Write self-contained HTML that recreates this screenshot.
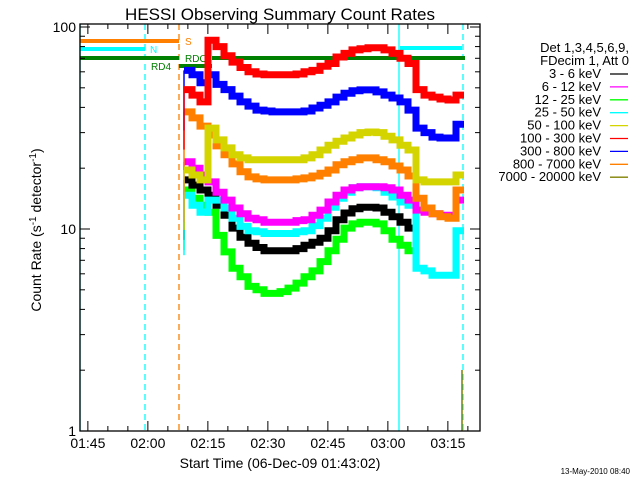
<!DOCTYPE html>
<html><head><meta charset="utf-8"><style>
body{margin:0;background:#fff;}
svg{display:block;font-family:"Liberation Sans",sans-serif;}
</style></head><body>
<svg id="c" width="640" height="480" xmlns="http://www.w3.org/2000/svg">
<text x="280" y="20" font-size="17" text-anchor="middle">HESSI Observing Summary Count Rates</text>
<text transform="translate(41,230) rotate(-90)" font-size="14" text-anchor="middle">Count Rate (s<tspan font-size="10" dy="-5">-1</tspan><tspan dy="5"> detector</tspan><tspan font-size="10" dy="-5">-1</tspan><tspan dy="5">)</tspan></text>
<text x="280" y="468" font-size="14" text-anchor="middle">Start Time (06-Dec-09 01:43:02)</text>
<text x="630" y="474" font-size="8" text-anchor="end">13-May-2010 08:40</text>
<g id="marks"></g>
<g id="axes"></g>
<g id="legend"></g>
</svg>
<script>
const times=[27,29,31,33,35,37,39,41,43,45,47,49,51,53,55,57,59,61,63,65,67,69,71,73,75,77,79,81,83,85,87,89,91,93,95];
const red=[49,46,42.6,86,80,72,67,63,60,58.5,58,58,58,58,58.5,60,61,64,66,71,74,77,78,79,79,77,74,70,66,49,46,45,44,43.5,46];
const blue=[61,58,53,58,52,49,45.5,42.6,40.6,38.8,38.4,38,38,38,38,38.4,39.7,41,42.6,45,47,48.3,48.8,48.8,47.7,46,44.5,42.6,38.8,31.6,30,28.5,28.2,28.2,33];
const orange=[38,35.5,32.3,29.2,25.8,23.3,21,19.2,18.1,17.7,17.5,17.5,17.5,17.5,17.7,17.9,18.3,18.9,19.6,20.8,21.5,22,22.5,22.5,22,21.5,20.5,19.6,18.3,14.2,12.7,11.9,11.5,11.3,15.6];
const yellow=[19.6,18.5,17.5,31.6,27.6,25.2,23.3,22.5,22,22,22,22,22,22,22,22.5,23.3,24.6,26,27.2,28.2,29.2,30,30.2,30,28.8,27.6,26,24.6,17.5,17.1,17.1,17.1,17.1,18.5];
const magenta=[21.5,20,18.5,17.1,15.2,13.9,12.7,11.9,11.3,11.1,10.8,10.8,10.8,10.8,11,11.1,11.7,12.4,13.6,14.7,15.6,16,16.2,16.2,16.2,16,15.6,14.7,13.9,12.4,12.1,11.9,11.7,11.7,13.9];
const cyan=[14.7,13.1,12.1,13.9,13.9,12.7,11.3,10.3,9.8,9.7,9.5,9.5,9.5,9.5,9.7,9.8,10.4,11.3,12.8,14.2,15.2,16,16.2,16.2,16,15.2,14.4,13.6,13.1,6.4,6.2,5.9,5.9,5.9,9.8];
const black=[17.5,16.5,15.6,14.7,13.1,11.7,10.1,9.1,8.5,8.1,7.8,7.8,7.8,7.8,8,8.3,8.6,9,9.8,11.1,12,12.6,12.8,12.8,12.7,12.1,11.5,10.8,10.1,null,null,null,null,null,null];
const green=[15.6,14.2,13.1,12.1,9.3,7.7,6.4,5.8,5.2,5,4.8,4.8,4.9,5.1,5.4,5.8,6.2,6.9,7.8,8.9,10.1,10.6,10.8,10.8,10.6,9.8,8.9,8.3,7.8,null,null,null,null,null,null];
const xTickLabels=["01:45","02:00","02:15","02:30","02:45","03:00","03:15"];
const yTickLabels=["1","10","100"];
const legendLabels=["3 - 6 keV","6 - 12 keV","12 - 25 keV","25 - 50 keV","50 - 100 keV","100 - 300 keV","300 - 800 keV","800 - 7000 keV","7000 - 20000 keV"];

const NS="http://www.w3.org/2000/svg";
const L=80,R=480,T=24,B=431;
function X(t){return L+4*t;}
function Y(v){return B-202*Math.log10(v);}
function mk(tag,attrs,parent){const e=document.createElementNS(NS,tag);for(const k in attrs)e.setAttribute(k,attrs[k]);parent.appendChild(e);return e;}
const marks=document.getElementById('marks'),axes=document.getElementById('axes'),leg=document.getElementById('legend');

[[80,'#00ffff',''],[145,'#00ffff','6,4'],[179,'#ff8000','6,4'],[399,'#00ffff',''],[463,'#00ffff','6,4']].forEach(m=>{
 const l=mk('line',{x1:m[0],x2:m[0],y1:T,y2:B,stroke:m[1],'stroke-width':1.3,'stroke-dasharray':m[2]},marks);
 
 
});
[[80,179,41,'#ff8000'],[80,145,49,'#00ffff'],[80,179,58,'#008000'],[179,212,66,'#008000'],[212,465,58,'#008000'],[400,462,48,'#00ffff']].forEach(b=>{
 const l=mk('line',{x1:b[0],x2:b[1],y1:b[2],y2:b[2],stroke:b[3],'stroke-width':4},marks);
 
 
});
[['S',185,45,'#ff8000'],['N',150,53,'#00ffff'],['RD4',151,70,'#008000'],['RDO',185,62,'#008000']].forEach(s=>{
 const t=mk('text',{x:s[1],y:s[2],fill:s[3],'font-size':10},marks);t.textContent=s[0];
 
 
});

const series=[[green,'#00ff00','green'],[black,'#000000','black'],[cyan,'#00ffff','cyan'],[magenta,'#ff00ff','magenta'],[orange,'#ff8000','orange'],[yellow,'#d4d400','yellow'],[blue,'#0000ff','blue'],[red,'#ff0000','red']];
series.forEach(s=>{
 let d='';let pen=false;
 s[0].forEach((v,i)=>{
  if(v==null){pen=false;return;}
  const x0=X(times[i]-1).toFixed(1),x1=X(times[i]+1).toFixed(1),y=Y(v).toFixed(1);
  d+=(pen?'L'+x0+','+y:'M'+x0+','+y)+'H'+x1;pen=true;
 });
 const p=mk('path',{d:d,fill:'none',stroke:s[1],'stroke-width':7,'stroke-linejoin':'miter'},marks);
 
 
 const r=mk('line',{x1:X(times[0]-1),x2:X(times[0]-1),y1:Y(s[0][0]),y2:Y(s[0][0])+60,stroke:s[1],'stroke-width':1.5},marks);
 
 
});
const ol=mk('line',{x1:462,x2:462,y1:370,y2:B,stroke:'#808000','stroke-width':1.5},marks);



const fr=mk('rect',{x:L,y:T,width:R-L,height:B-T,fill:'none',stroke:'#000','stroke-width':1.3},axes);


for(let k=0;k<=19;k++){
 const tt=1.9667+5*k;
 if(tt>100) break;
 const x=X(tt);const len=(k%3==0)?10:5;
 const a=mk('line',{x1:x,x2:x,y1:B,y2:B-len,stroke:'#000'},axes);
 
 
 const b=mk('line',{x1:x,x2:x,y1:T,y2:T+len,stroke:'#000'},axes);
 
 
 if(k%3==0&&xTickLabels[k/3]){
  const tx=mk('text',{x:x,y:448,'font-size':14,'text-anchor':'middle'},axes);tx.textContent=xTickLabels[k/3];
  
  
 }
}
for(let dec=0;dec<2;dec++){for(let m=1;m<=10;m++){
 const v=m*Math.pow(10,dec);const y=Y(v);const len=(m==1||m==10)?10:5;
 [[L,L+len],[R,R-len]].forEach(p=>{
  const a=mk('line',{x1:p[0],x2:p[1],y1:y,y2:y,stroke:'#000'},axes);
  
  
 });
}}
yTickLabels.forEach((s,i)=>{
 const tx=mk('text',{x:76,y:Y(Math.pow(10,i))+5,'font-size':14,'text-anchor':'end'},axes);tx.textContent=s;
 
 
});
[['Det 1,3,4,5,6,9,',52],['FDecim 1, Att 0',65]].forEach(h=>{
 const t=mk('text',{x:629,y:h[1],'font-size':13,'text-anchor':'end'},leg);t.textContent=h[0];
 
 
});
const legColors=['#000000','#ff00ff','#00ff00','#00ffff','#d4d400','#ff0000','#0000ff','#ff8000','#808000'];
legendLabels.forEach((s,i)=>{
 const y=78+i*12.9;
 const t=mk('text',{x:601,y:y,'font-size':13,'text-anchor':'end'},leg);t.textContent=s;
 
 
 const l=mk('line',{x1:610,x2:628,y1:y-4,y2:y-4,stroke:legColors[i],'stroke-width':1.3},leg);
 
 
});
</script>
</body></html>
